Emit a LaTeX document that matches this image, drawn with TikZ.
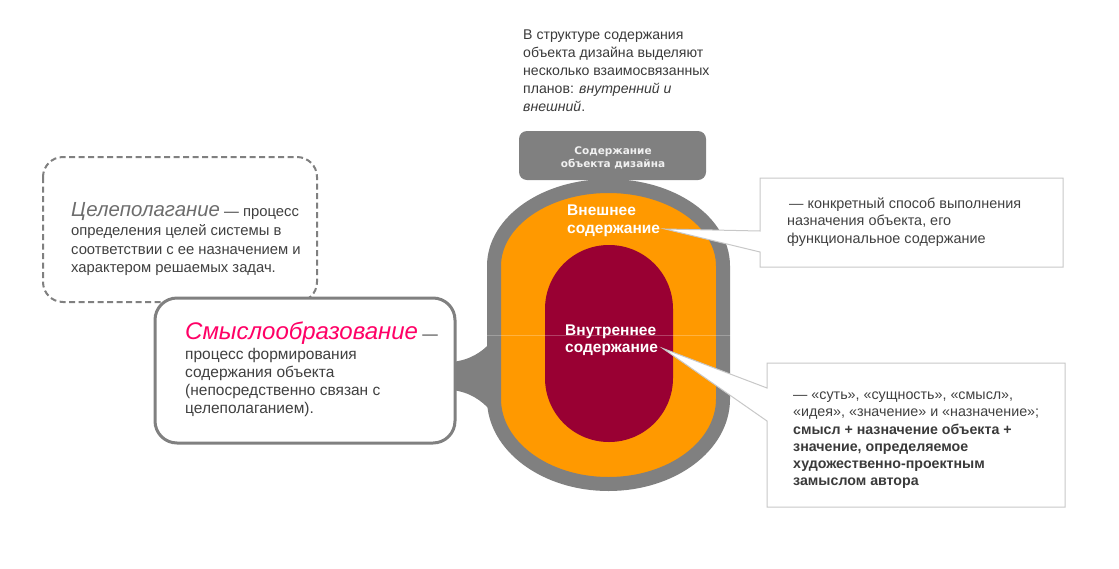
\documentclass[tikz,border=0pt]{standalone}
\usepackage{fontspec}
\setmainfont{Liberation Sans}
\newfontfamily\dvs{DejaVu Sans}
\definecolor{grayA}{HTML}{808080}
\definecolor{orng}{HTML}{FF9900}
\definecolor{maroonA}{HTML}{990033}
\definecolor{txtA}{HTML}{3A3A3A}
\definecolor{txtB}{HTML}{404040}
\definecolor{pinkA}{HTML}{FF0066}
\definecolor{boxline}{HTML}{C8C8C8}
\tikzset{
  ln/.style={anchor=base west, inner sep=0pt, text=txtB, font=\fontsize{14.3}{16}\selectfont},
  lnb/.style={ln, font=\fontsize{14.2}{16}\selectfont\bfseries, text=txtA},
  inlabel/.style={anchor=base west, inner sep=0pt, text=white, font=\fontsize{15.5}{17}\selectfont\bfseries},
  titlelbl/.style={anchor=base, inner sep=0pt, text=white!94!black, font=\dvs\fontsize{10.5}{12}\selectfont\bfseries},
  dashbox/.style={draw=grayA, line width=2pt, dash pattern=on 6pt off 3.5pt, rounded corners=20pt},
  solidbox/.style={draw=grayA, line width=3pt, fill=white, rounded corners=22pt},
  callout/.style={draw=boxline, line width=1pt, fill=white},
}
\begin{document}
\begin{tikzpicture}[x=1pt,y=-1pt]
\useasboundingbox[fill=white] (0,0) rectangle (1119,568);

% intro text
\node[ln, text=txtA, font=\fontsize{14.1}{16}\selectfont] (i1) at (523,39) {В структуре содержания};
\node[ln, text=txtA, font=\fontsize{14.1}{16}\selectfont] (i2) at (523,57) {объекта дизайна выделяют};
\node[ln, text=txtA, font=\fontsize{14.1}{16}\selectfont] (i3) at (523,75) {несколько взаимосвязанных};
\node[ln, text=txtA, font=\fontsize{14.1}{16}\selectfont] (i4) at (523,93) {планов: \textit{внутренний и}};
\node[ln, text=txtA, font=\fontsize{14.1}{16}\selectfont] (i5) at (523,111) {\textit{внешний}.};

% dashed box
\draw[dashbox] (43,157) rectangle (317,302);
\node[ln, font=\fontsize{14.8}{16}\selectfont] (g1) at (71,216.5) {{\fontsize{20.4}{22}\selectfont\itshape\color{grayA!85!black}Целеполагание} — процесс};
\node[ln, font=\fontsize{14.8}{16}\selectfont] (g2) at (71,235.5) {определения целей системы в};
\node[ln, font=\fontsize{14.8}{16}\selectfont] (g3) at (71,254) {соответствии с ее назначением и};
\node[ln, font=\fontsize{14.8}{16}\selectfont] (g4) at (71,272.5) {характером решаемых задач.};

% connector from smysl box to shape
\fill[grayA] (452,362) .. controls (470,360) and (482,352) .. (490,343)
  -- (490,410) .. controls (482,401) and (470,392) .. (452,390) -- cycle;

% smysl box
\draw[solidbox] (155,298) rectangle (455,443);
\node[ln, font=\fontsize{15.5}{17}\selectfont] (s1) at (185,339) {{\fontsize{24}{26}\selectfont\itshape\color{pinkA}Смыслообразование} —};
\node[ln, font=\fontsize{15.5}{17}\selectfont] (s2) at (185,359) {процесс формирования};
\node[ln, font=\fontsize{15.5}{17}\selectfont] (s3) at (185,377) {содержания объекта};
\node[ln, font=\fontsize{15.5}{17}\selectfont] (s4) at (185,395) {(непосредственно связан с};
\node[ln, font=\fontsize{15.5}{17}\selectfont] (s5) at (185,413) {целеполаганием).};

% outer shape
\draw[line width=14pt, draw=grayA, fill=orng]
  (494,266) arc[start angle=180, end angle=0, x radius=114.5pt, y radius=80pt]
  -- (723,399) arc[start angle=0, end angle=-180, x radius=114.5pt, y radius=85pt]
  -- cycle;
\fill[maroonA, rounded corners=63.9pt] (545,245) rectangle (673,442);

% faint line artefact
\draw[white, opacity=0.25, line width=0.6pt] (487,335) -- (731,335);

% title box
\node[fill=grayA, rounded corners=8pt, minimum width=187pt, minimum height=49pt, inner sep=0pt] (title) at (612.5,155.5) {};
\node[titlelbl] (t1) at (613,154.5) {Содержание};
\node[titlelbl] (t2) at (613,167) {объекта дизайна};

% callouts
\draw[callout] (760,178) -- (1063,178) -- (1063,267) -- (760,267) -- (760,252) -- (665,229) -- (760,231) -- cycle;
\draw[callout] (767,363) -- (1065,363) -- (1065,507) -- (767,507) -- (767,421) -- (663,348.5) -- (767,388) -- cycle;

% inner labels
\node[inlabel] (e1) at (567,215) {Внешнее};
\node[inlabel] (e2) at (567,233) {содержание};
\node[inlabel] (n1) at (565,335) {Внутреннее};
\node[inlabel] (n2) at (565,352.5) {содержание};

% callout texts
\node[ln, font=\fontsize{14.4}{16}\selectfont] (c1) at (789,208) {— конкретный способ выполнения};
\node[ln, font=\fontsize{14.4}{16}\selectfont] (c2) at (787,225.5) {назначения объекта, его};
\node[ln, font=\fontsize{14.4}{16}\selectfont] (c3) at (787,243) {функциональное содержание};

\node[ln] (d1) at (793,399) {— «суть», «сущность», «смысл»,};
\node[ln] (d2) at (793,416) {«идея», «значение» и «назначение»;};
\node[lnb] (d3) at (793,434) {смысл + назначение объекта +};
\node[lnb] (d4) at (793,451) {значение, определяемое};
\node[lnb] (d5) at (793,468) {художественно-проектным};
\node[lnb] (d6) at (793,485) {замыслом автора};
\end{tikzpicture}
\end{document}
